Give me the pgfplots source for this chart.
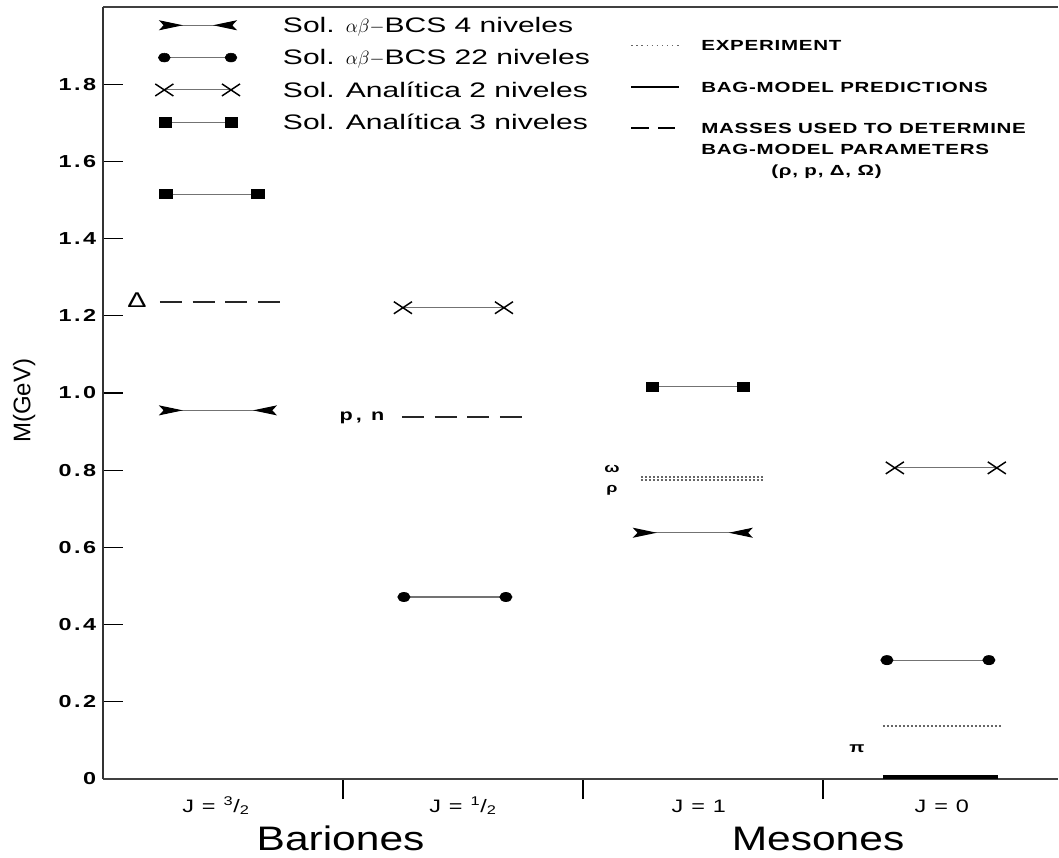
\documentclass[border=0pt]{standalone}
\usepackage{pgfplots}
\pgfplotsset{compat=1.18}
\usetikzlibrary{arrows.meta}
\usepackage{fontspec}
\setmainfont{Liberation Sans}[FakeStretch=1.43]
\newfontfamily\plainfont{Liberation Sans}
\newfontfamily\bigfont{Liberation Sans}[FakeStretch=1.25]
\newfontfamily\legfont{Liberation Sans}[FakeStretch=1.43]
\newfontfamily\letfont{Liberation Sans}[FakeStretch=1.4,LetterSpace=5]
\newfontfamily\tickfont{Liberation Sans}[FakeStretch=1.35,LetterSpace=20]
\newfontfamily\ytfont{Liberation Sans}[FakeStretch=1.35,LetterSpace=14]
\newfontfamily\jfont{Liberation Sans}[FakeStretch=1.3,LetterSpace=8]
\tikzset{
  conn/.style={black!55, line width=0.8pt},
  bcsarrow/.style={arrows={Stealth[black,length=18pt,width=7.5pt,inset=3.5pt,reversed]-Stealth[black,length=18pt,width=7.5pt,inset=3.5pt,reversed]}},
  dotexp/.style={black!60, line width=1.3pt, dash pattern=on 1.6pt off 1.4pt},
  dashfit/.style={black!85, line width=1.8pt, dash pattern=on 16.5pt off 8pt},
}
\begin{document}
\begin{tikzpicture}
\path[use as bounding box] (-77.25pt,-58.5pt) rectangle (717pt,584.25pt);
\begin{axis}[
  at={(0pt,0pt)}, anchor=south west,
  scale only axis, width=716.25pt, height=579pt,
  xmin=0, xmax=3.98, ymin=0, ymax=2,
  clip=false,
  axis x line*=box, axis y line*=left,
  x axis line style={black!75, line width=1.1pt},
  y axis line style={black!80, line width=2pt},
  xtick={1,2,3}, xticklabels={}, xtick pos=bottom, xtick align=outside,
  ytick={0,0.2,0.4,0.6,0.8,1.0,1.2,1.4,1.6,1.8},
  yticklabels={0,0.2,0.4,0.6,0.8,1.0,1.2,1.4,1.6,1.8},
  ytick pos=left, ytick align=inside,
  major tick length=15pt,
  tick style={black, line width=1pt},
  yticklabel style={font=\ytfont\bfseries\fontsize{13pt}{15pt}\selectfont, inner sep=0pt, anchor=east, xshift=-5pt},
  legend style={at={(0,1)}, anchor=north west, xshift=39pt, yshift=-7pt, draw=none, fill=none, inner sep=0pt, column sep=0pt, row sep=11.25pt, font=\legfont\fontsize{15.75pt}{18pt}\selectfont, nodes={inner sep=0pt, text height=12pt, text depth=1pt}},
  legend cell align=left,
]
% legend images (left legend)
\addlegendimage{legend image code/.code={
  \draw[conn, bcsarrow] (0pt,0pt) -- (58.5pt,0pt);
  \path[draw=none] (0pt,0pt) -- (93pt,0pt);}}
\addlegendentry{Sol. $\alpha\beta-$BCS 4 niveles}
\addlegendimage{legend image code/.code={
  \draw[conn] (4pt,0pt) -- (54pt,0pt);
  \draw[black, fill=black] plot[only marks, mark=*, mark size=3.3pt, mark options={xscale=1.35}] coordinates {(4pt,0pt) (54pt,0pt)};
  \path[draw=none] (0pt,0pt) -- (93pt,0pt);}}
\addlegendentry{Sol. $\alpha\beta-$BCS 22 niveles}
\addlegendimage{legend image code/.code={
  \draw[conn] (4pt,0pt) -- (54pt,0pt);
  \draw[black] plot[only marks, mark=x, mark size=6.4pt, mark options={xscale=1.5, line width=1.1pt}] coordinates {(4pt,0pt) (54pt,0pt)};
  \path[draw=none] (0pt,0pt) -- (93pt,0pt);}}
\addlegendentry{Sol. Analítica 2 niveles}
\addlegendimage{legend image code/.code={
  \draw[conn] (5pt,0pt) -- (54pt,0pt);
  \draw[black, fill=black] plot[only marks, mark=square*, mark size=3.4pt, mark options={xscale=1.33}] coordinates {(5pt,0pt) (54pt,0pt)};
  \path[draw=none] (0pt,0pt) -- (93pt,0pt);}}
\addlegendentry{Sol. Analítica 3 niveles}

% ---- J = 3/2 ----
\addplot[forget plot, conn, mark=square*, mark size=3.4pt, mark options={black, fill=black, xscale=1.33}] coordinates {(0.2625,1.515) (0.646,1.515)};
\addplot[forget plot, dashfit] coordinates {(0.2375,1.236) (0.746,1.236)};
\addplot[forget plot, conn, bcsarrow] coordinates {(0.233,0.955) (0.725,0.955)};
% ---- J = 1/2 ----
\addplot[forget plot, conn, mark=x, mark size=6.4pt, mark options={black, xscale=1.5, line width=1.1pt}] coordinates {(1.25,1.221) (1.671,1.221)};
\addplot[forget plot, dashfit] coordinates {(1.246,0.938) (1.746,0.938)};
\addplot[forget plot, conn, mark=*, mark size=3.3pt, mark options={black, fill=black, xscale=1.35}] coordinates {(1.254,0.4715) (1.679,0.4715)};
% ---- J = 1 ----
\addplot[forget plot, conn, mark=square*, mark size=3.4pt, mark options={black, fill=black, xscale=1.33}] coordinates {(2.29,1.016) (2.671,1.016)};
\addplot[forget plot, dotexp] coordinates {(2.242,0.782) (2.75,0.782)};
\addplot[forget plot, dotexp] coordinates {(2.242,0.774) (2.75,0.774)};
\addplot[forget plot, conn, bcsarrow] coordinates {(2.208,0.638) (2.708,0.638)};
% ---- J = 0 ----
\addplot[forget plot, conn, mark=x, mark size=6.4pt, mark options={black, xscale=1.5, line width=1.1pt}] coordinates {(3.30,0.806) (3.725,0.806)};
\addplot[forget plot, conn, mark=*, mark size=3.3pt, mark options={black, fill=black, xscale=1.35}] coordinates {(3.267,0.308) (3.692,0.308)};
\addplot[forget plot, dotexp] coordinates {(3.25,0.137) (3.746,0.137)};
\addplot[forget plot, black, line width=2.5pt] coordinates {(3.25,0.005) (3.73,0.005)};

% labels
\node[font=\tickfont\fontsize{16pt}{18pt}\selectfont] at (axis cs:0.142,1.241) {Δ};
\node[font=\tickfont\bfseries\fontsize{12pt}{14pt}\selectfont] at (axis cs:1.079,0.935) {p, n};
\node[font=\tickfont\bfseries\fontsize{10pt}{12pt}\selectfont] at (axis cs:2.121,0.803) {ω};
\node[font=\tickfont\bfseries\fontsize{10pt}{12pt}\selectfont] at (axis cs:2.121,0.749) {ρ};
\node[font=\tickfont\bfseries\fontsize{11pt}{12pt}\selectfont] at (axis cs:3.142,0.078) {π};

\node[font=\jfont\fontsize{13.5pt}{15pt}\selectfont, anchor=base] at (axis cs:0.471,-0.0855) {J = \textsuperscript{3}/\textsubscript{2}};
\node[font=\jfont\fontsize{13.5pt}{15pt}\selectfont, anchor=base] at (axis cs:1.5,-0.0855) {J = \textsuperscript{1}/\textsubscript{2}};
\node[font=\jfont\fontsize{13.5pt}{15pt}\selectfont, anchor=base] at (axis cs:2.483,-0.0855) {J = 1};
\node[font=\jfont\fontsize{13.5pt}{15pt}\selectfont, anchor=base] at (axis cs:3.496,-0.0855) {J = 0};

\node[font=\bigfont\fontsize{25.5pt}{29pt}\selectfont, anchor=base] at (axis cs:0.99,-0.184) {Bariones};
\node[font=\bigfont\fontsize{25.5pt}{29pt}\selectfont, anchor=base] at (axis cs:2.98,-0.184) {Mesones};

\node[font=\plainfont\fontsize{18pt}{20pt}\selectfont, rotate=90] at (axis cs:-0.329,0.98) {M(GeV)};
\end{axis}

\begin{axis}[
  at={(0pt,0pt)}, anchor=south west,
  scale only axis, width=716.25pt, height=579pt,
  xmin=0, xmax=3.98, ymin=0, ymax=2,
  hide axis,
  legend style={at={(0,1)}, anchor=north west, xshift=395.25pt, yshift=-24.7pt, draw=none, fill=none, inner sep=0pt, column sep=0pt, row sep=23.2pt, font=\letfont\bfseries\fontsize{11pt}{15.75pt}\selectfont, nodes={inner sep=0pt, text height=7.9pt, text depth=0pt}},
  legend cell align=left,
]
\addlegendimage{legend image code/.code={
  \draw[black!60, line width=1.2pt, dash pattern=on 1.2pt off 2.6pt] (0pt,0pt) -- (36pt,0pt);
  \path[draw=none] (0pt,0pt) -- (52.5pt,0pt);}}
\addlegendentry{EXPERIMENT}
\addlegendimage{legend image code/.code={
  \draw[black, line width=1.6pt] (0pt,0pt) -- (36pt,0pt);
  \path[draw=none] (0pt,0pt) -- (52.5pt,0pt);}}
\addlegendentry{BAG-MODEL PREDICTIONS}
\addlegendimage{legend image code/.code={
  \draw[black, line width=1.6pt, dash pattern=on 13pt off 7pt] (0pt,0pt) -- (33pt,0pt);
  \path[draw=none] (0pt,0pt) -- (52.5pt,0pt);}}
\addlegendentry{\raisebox{0pt}[\height][0pt]{\begin{tabular}[t]{@{}l@{}}MASSES USED TO DETERMINE\\BAG-MODEL PARAMETERS\\\hspace{52.5pt}(ρ, p, Δ, Ω)\end{tabular}}}
\end{axis}
\end{tikzpicture}
\end{document}
